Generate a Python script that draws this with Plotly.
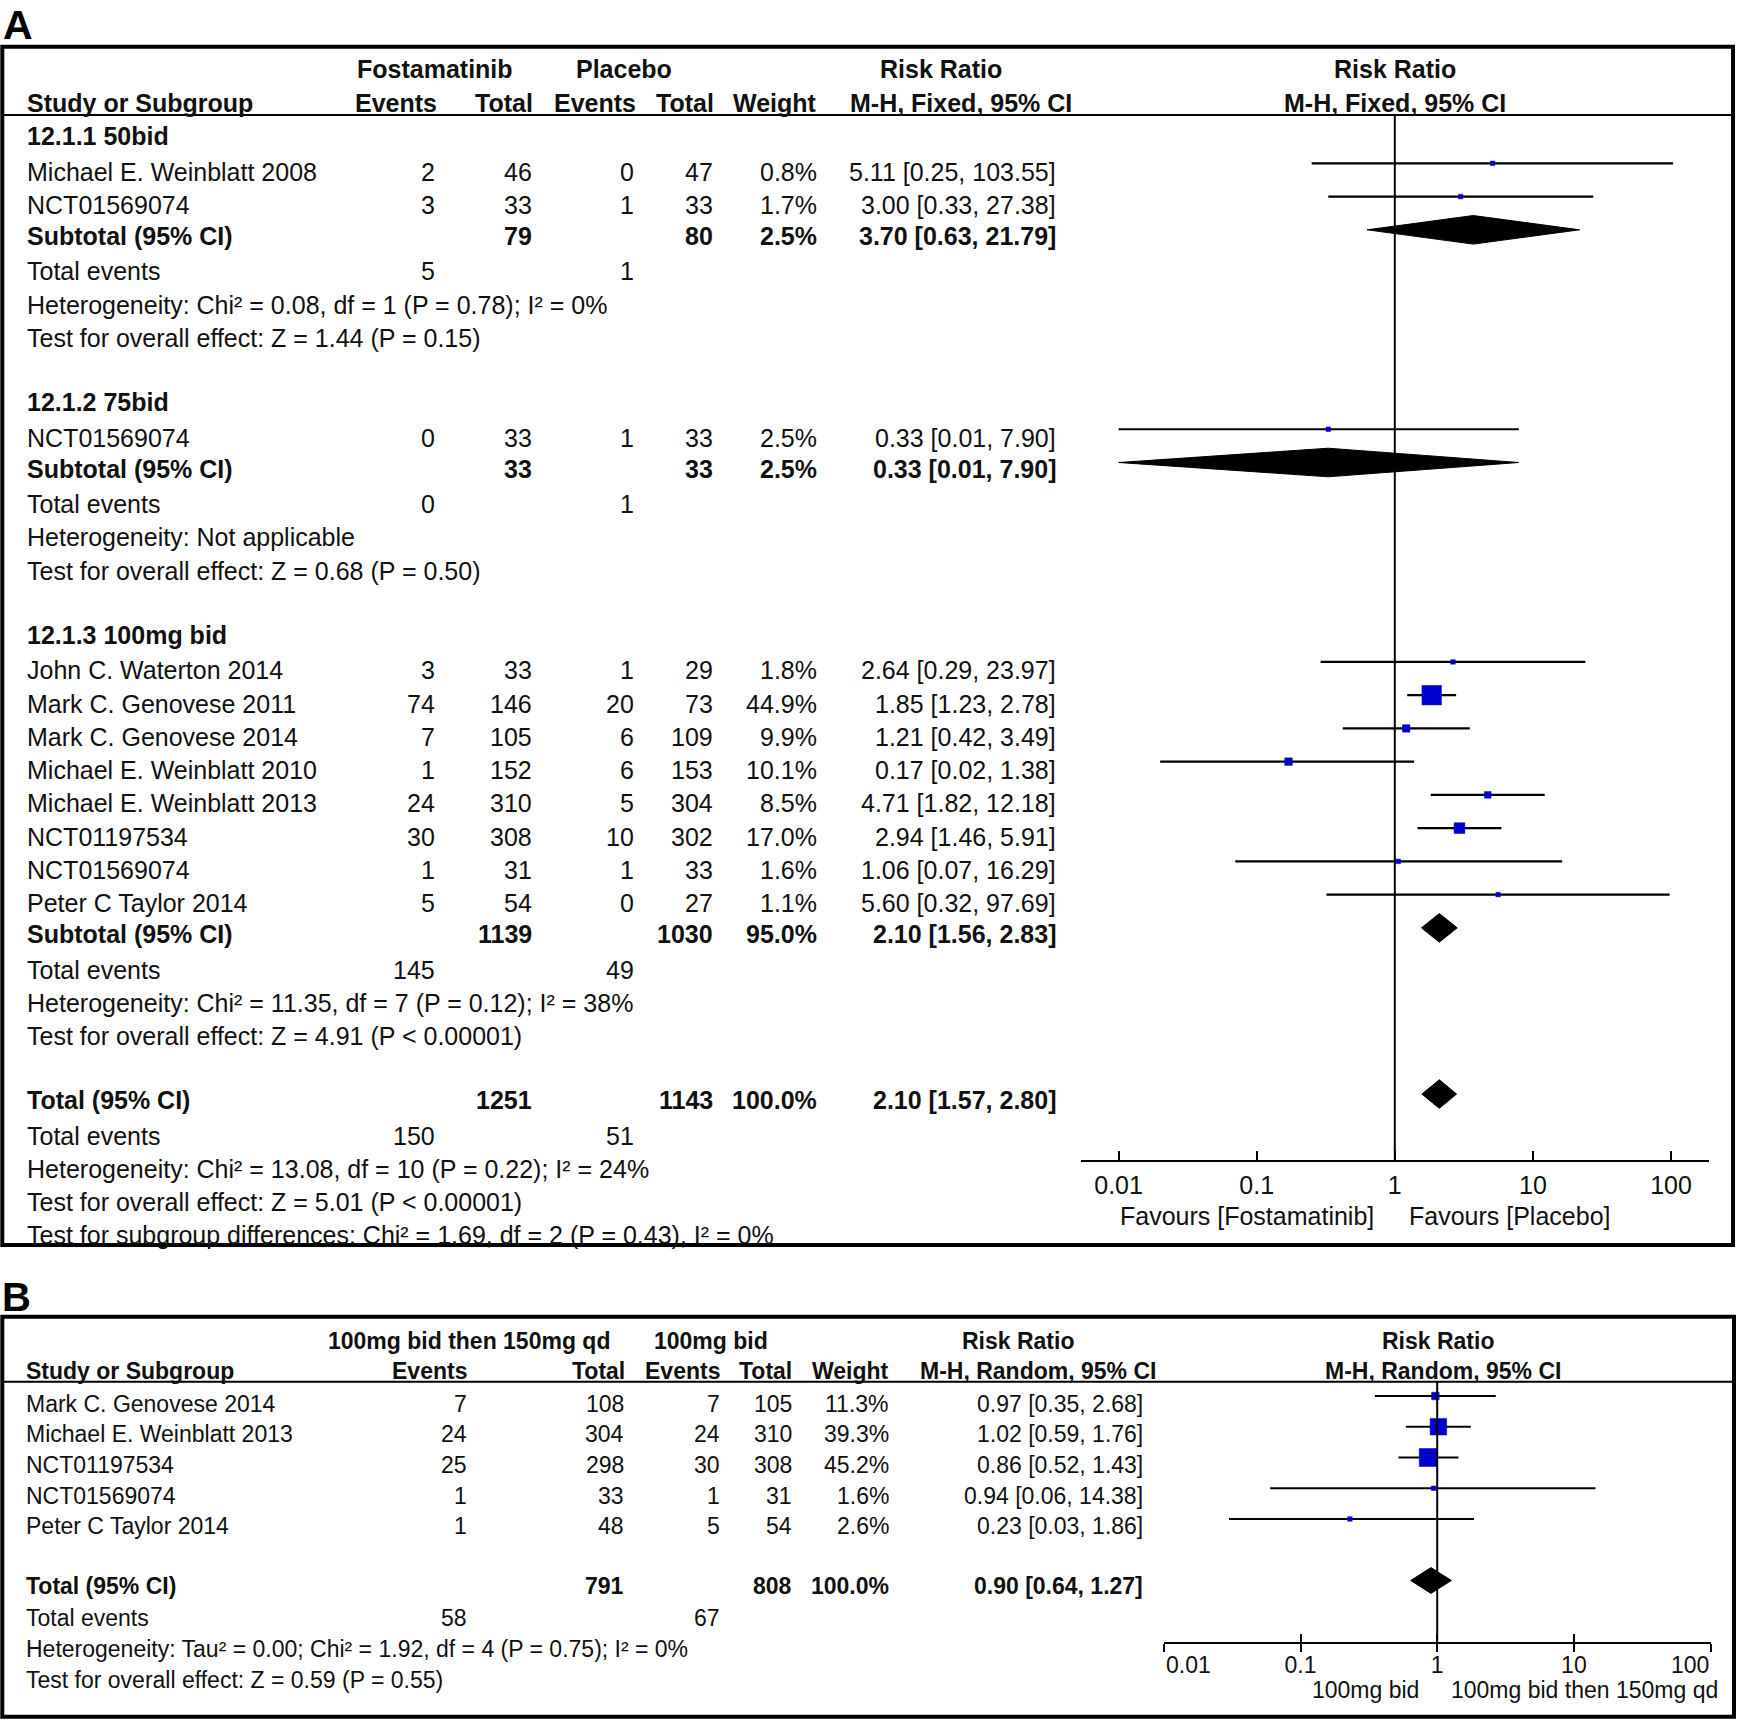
import math
import plotly.graph_objects as go

# ---------------- Panel A data (Fostamatinib vs Placebo) ----------------
A_group_labels = ["12.1.1 50bid", "12.1.2 75bid", "12.1.3 100mg bid"]
A_study = ["Michael E. Weinblatt 2008", "NCT01569074",
           "NCT01569074",
           "John C. Waterton 2014", "Mark C. Genovese 2011", "Mark C. Genovese 2014",
           "Michael E. Weinblatt 2010", "Michael E. Weinblatt 2013", "NCT01197534",
           "NCT01569074", "Peter C Taylor 2014"]
A_study_group = [0, 0, 1, 2, 2, 2, 2, 2, 2, 2, 2]
A_fos_ev = [2, 3, 0, 3, 74, 7, 1, 24, 30, 1, 5]
A_fos_tot = [46, 33, 33, 33, 146, 105, 152, 310, 308, 31, 54]
A_pla_ev = [0, 1, 1, 1, 20, 6, 6, 5, 10, 1, 0]
A_pla_tot = [47, 33, 33, 29, 73, 109, 153, 304, 302, 33, 27]
A_weight = [0.8, 1.7, 2.5, 1.8, 44.9, 9.9, 10.1, 8.5, 17.0, 1.6, 1.1]
A_rr = [5.11, 3.00, 0.33, 2.64, 1.85, 1.21, 0.17, 4.71, 2.94, 1.06, 5.60]
A_lo = [0.25, 0.33, 0.01, 0.29, 1.23, 0.42, 0.02, 1.82, 1.46, 0.07, 0.32]
A_hi = [103.55, 27.38, 7.90, 23.97, 2.78, 3.49, 1.38, 12.18, 5.91, 16.29, 97.69]

A_sub_fos_tot = [79, 33, 1139]
A_sub_pla_tot = [80, 33, 1030]
A_sub_weight = [2.5, 2.5, 95.0]
A_sub_rr = [3.70, 0.33, 2.10]
A_sub_lo = [0.63, 0.01, 1.56]
A_sub_hi = [21.79, 7.90, 2.83]
A_sub_fos_ev = [5, 0, 145]
A_sub_pla_ev = [1, 1, 49]
A_sub_het = ["Heterogeneity: Chi² = 0.08, df = 1 (P = 0.78); I² = 0%",
             "Heterogeneity: Not applicable",
             "Heterogeneity: Chi² = 11.35, df = 7 (P = 0.12); I² = 38%"]
A_sub_test = ["Test for overall effect: Z = 1.44 (P = 0.15)",
              "Test for overall effect: Z = 0.68 (P = 0.50)",
              "Test for overall effect: Z = 4.91 (P < 0.00001)"]

A_total_fos_tot = 1251
A_total_pla_tot = 1143
A_total_weight = 100.0
A_total_rr = 2.10
A_total_lo = 1.57
A_total_hi = 2.80
A_total_fos_ev = 150
A_total_pla_ev = 51
A_total_het = "Heterogeneity: Chi² = 13.08, df = 10 (P = 0.22); I² = 24%"
A_total_test = "Test for overall effect: Z = 5.01 (P < 0.00001)"
A_subgroup_test = "Test for subgroup differences: Chi² = 1.69, df = 2 (P = 0.43), I² = 0%"

A_ticks = [0.01, 0.1, 1, 10, 100]
A_ticktext = ["0.01", "0.1", "1", "10", "100"]
A_favours = ["Favours [Fostamatinib]", "Favours [Placebo]"]

# ---------------- Panel B data ----------------
B_study = ["Mark C. Genovese 2014", "Michael E. Weinblatt 2013", "NCT01197534",
           "NCT01569074", "Peter C Taylor 2014"]
B_exp_ev = [7, 24, 25, 1, 1]
B_exp_tot = [108, 304, 298, 33, 48]
B_ctl_ev = [7, 24, 30, 1, 5]
B_ctl_tot = [105, 310, 308, 31, 54]
B_weight = [11.3, 39.3, 45.2, 1.6, 2.6]
B_rr = [0.97, 1.02, 0.86, 0.94, 0.23]
B_lo = [0.35, 0.59, 0.52, 0.06, 0.03]
B_hi = [2.68, 1.76, 1.43, 14.38, 1.86]
B_total_exp_tot = 791
B_total_ctl_tot = 808
B_total_weight = 100.0
B_total_rr = 0.90
B_total_lo = 0.64
B_total_hi = 1.27
B_total_exp_ev = 58
B_total_ctl_ev = 67
B_total_het = "Heterogeneity: Tau² = 0.00; Chi² = 1.92, df = 4 (P = 0.75); I² = 0%"
B_total_test = "Test for overall effect: Z = 0.59 (P = 0.55)"
B_ticks = [0.01, 0.1, 1, 10, 100]
B_ticktext = ["0.01", "0.1", "1", "10", "100"]
B_favours = ["100mg bid", "100mg bid then 150mg qd"]

# ---------------- layout constants (pixels) ----------------
W, H = 1737, 1723
FONT = "Liberation Sans, Arial, Helvetica, sans-serif"
TXT = "#111111"
BLUE = "#0000CC"
FA, FB = 25, 23
TXT_SHIFT = -1.5


def px_x(p):
    return p / W


def px_y(p):
    return 1 - p / H


annotations = []


def txt(x, y, s, anchor="left", size=FA, bold=False):
    annotations.append(dict(
        x=px_x(x), y=px_y(y + TXT_SHIFT), xref="paper", yref="paper",
        text=f"<b>{s}</b>" if bold else s, showarrow=False,
        xanchor=anchor, yanchor="middle",
        font=dict(family=FONT, size=size, color=TXT)))


def rrtxt(r, lo, hi):
    return f"{r:.2f} [{lo:.2f}, {hi:.2f}]"


# ---------------- Panel A table ----------------
A_ROW0, A_DY = 140.0, 33.24
A_MARK0 = 130.1
AC = dict(name=25, fev=436.6, ftot=534, pev=636, ptot=714.7, wt=818.8, rr=1058)


def ay(i, bold=False):
    return A_ROW0 + A_DY * i - (2 if bold else 0)


# headers
txt(435.4, 70, "Fostamatinib", "center", bold=True)
txt(623.8, 70, "Placebo", "center", bold=True)
txt(940.7, 70, "Risk Ratio", "center", bold=True)
txt(1395, 70, "Risk Ratio", "center", bold=True)
txt(AC["name"], 104, "Study or Subgroup", "left", bold=True)
txt(438.8, 104, "Events", "right", bold=True)
txt(535, 104, "Total", "right", bold=True)
txt(638, 104, "Events", "right", bold=True)
txt(715.8, 104, "Total", "right", bold=True)
txt(818.8, 104, "Weight", "right", bold=True)
txt(960.6, 104, "M-H, Fixed, 95% CI", "center", bold=True)
txt(1395, 104, "M-H, Fixed, 95% CI", "center", bold=True)

a_study_row = [None] * len(A_study)
a_diamond_rows = []
a_diamond_vals = []
row = 0
for g, lab in enumerate(A_group_labels):
    txt(AC["name"], ay(row, True), lab, bold=True)
    row += 1
    for k in range(len(A_study)):
        if A_study_group[k] != g:
            continue
        a_study_row[k] = row
        y = ay(row)
        txt(AC["name"], y, A_study[k])
        txt(AC["fev"], y, str(A_fos_ev[k]), "right")
        txt(AC["ftot"], y, str(A_fos_tot[k]), "right")
        txt(AC["pev"], y, str(A_pla_ev[k]), "right")
        txt(AC["ptot"], y, str(A_pla_tot[k]), "right")
        txt(AC["wt"], y, f"{A_weight[k]:.1f}%", "right")
        txt(AC["rr"], y, rrtxt(A_rr[k], A_lo[k], A_hi[k]), "right")
        row += 1
    y = ay(row, True)
    txt(AC["name"], y, "Subtotal (95% CI)", bold=True)
    txt(AC["ftot"], y, str(A_sub_fos_tot[g]), "right", bold=True)
    txt(AC["ptot"], y, str(A_sub_pla_tot[g]), "right", bold=True)
    txt(AC["wt"], y, f"{A_sub_weight[g]:.1f}%", "right", bold=True)
    txt(AC["rr"], y, rrtxt(A_sub_rr[g], A_sub_lo[g], A_sub_hi[g]), "right", bold=True)
    a_diamond_rows.append(row)
    a_diamond_vals.append((A_sub_rr[g], A_sub_lo[g], A_sub_hi[g]))
    row += 1
    y = ay(row)
    txt(AC["name"], y, "Total events")
    txt(AC["fev"], y, str(A_sub_fos_ev[g]), "right")
    txt(AC["pev"], y, str(A_sub_pla_ev[g]), "right")
    row += 1
    txt(AC["name"], ay(row), A_sub_het[g])
    row += 1
    txt(AC["name"], ay(row), A_sub_test[g])
    row += 2

y = ay(row, True)
txt(AC["name"], y, "Total (95% CI)", bold=True)
txt(AC["ftot"], y, str(A_total_fos_tot), "right", bold=True)
txt(AC["ptot"], y, str(A_total_pla_tot), "right", bold=True)
txt(AC["wt"], y, f"{A_total_weight:.1f}%", "right", bold=True)
txt(AC["rr"], y, rrtxt(A_total_rr, A_total_lo, A_total_hi), "right", bold=True)
a_diamond_rows.append(row)
a_diamond_vals.append((A_total_rr, A_total_lo, A_total_hi))
row += 1
y = ay(row)
txt(AC["name"], y, "Total events")
txt(AC["fev"], y, str(A_total_fos_ev), "right")
txt(AC["pev"], y, str(A_total_pla_ev), "right")
row += 1
txt(AC["name"], ay(row), A_total_het)
row += 1
txt(AC["name"], ay(row), A_total_test)
row += 1
txt(AC["name"], ay(row), A_subgroup_test)

# favours A
txt(1376, 1217, A_favours[0], "right")
txt(1406.6, 1217, A_favours[1], "left")

# ---------------- Panel B table ----------------
B_ROW0, B_DY = 1405.0, 30.7
BC = dict(name=24.4, eev=469, etot=626, cev=722, ctot=794, wt=891, rr=1144.6)


def by(i, bold=False):
    return B_ROW0 + B_DY * i - (2 if bold else 0)


txt(469, 1342, "100mg bid then 150mg qd", "center", FB, True)
txt(711, 1342, "100mg bid", "center", FB, True)
txt(1018, 1342, "Risk Ratio", "center", FB, True)
txt(1438, 1342, "Risk Ratio", "center", FB, True)
txt(BC["name"], 1372, "Study or Subgroup", "left", FB, True)
txt(469, 1372, "Events", "right", FB, True)
txt(626.5, 1372, "Total", "right", FB, True)
txt(722.4, 1372, "Events", "right", FB, True)
txt(794, 1372, "Total", "right", FB, True)
txt(891, 1372, "Weight", "right", FB, True)
txt(1038.2, 1372, "M-H, Random, 95% CI", "center", FB, True)
txt(1442.6, 1372, "M-H, Random, 95% CI", "center", FB, True)

b_study_row = []
for k in range(len(B_study)):
    b_study_row.append(k)
    y = by(k)
    txt(BC["name"], y, B_study[k], size=FB)
    txt(BC["eev"], y, str(B_exp_ev[k]), "right", FB)
    txt(BC["etot"], y, str(B_exp_tot[k]), "right", FB)
    txt(BC["cev"], y, str(B_ctl_ev[k]), "right", FB)
    txt(BC["ctot"], y, str(B_ctl_tot[k]), "right", FB)
    txt(BC["wt"], y, f"{B_weight[k]:.1f}%", "right", FB)
    txt(BC["rr"], y, rrtxt(B_rr[k], B_lo[k], B_hi[k]), "right", FB)
b_total_row = len(B_study) + 1
y = by(b_total_row, True)
txt(BC["name"], y, "Total (95% CI)", size=FB, bold=True)
txt(BC["etot"], y, str(B_total_exp_tot), "right", FB, True)
txt(BC["ctot"], y, str(B_total_ctl_tot), "right", FB, True)
txt(BC["wt"], y, f"{B_total_weight:.1f}%", "right", FB, True)
txt(BC["rr"], y, rrtxt(B_total_rr, B_total_lo, B_total_hi), "right", FB, True)
y = by(b_total_row + 1)
txt(BC["name"], y, "Total events", size=FB)
txt(BC["eev"], y, str(B_total_exp_ev), "right", FB)
txt(BC["cev"], y, str(B_total_ctl_ev), "right", FB)
txt(BC["name"], by(b_total_row + 2), B_total_het, size=FB)
txt(BC["name"], by(b_total_row + 3), B_total_test, size=FB)

txt(1421, 1691, B_favours[0], "right", FB)
txt(1449, 1691, B_favours[1], "left", FB)

# panel B end tick labels sit inside the axis ends (left-aligned / right-aligned)
B_TICK_LABEL_Y = 1665
annotations.append(dict(x=math.log10(B_ticks[0]), y=px_y(B_TICK_LABEL_Y), xref="x2", yref="paper",
                        text=B_ticktext[0], showarrow=False, xanchor="left", yanchor="middle",
                        font=dict(family=FONT, size=FB, color=TXT)))
annotations.append(dict(x=math.log10(B_ticks[-1]), y=px_y(B_TICK_LABEL_Y), xref="x2", yref="paper",
                        text=B_ticktext[-1], showarrow=False, xanchor="right", yanchor="middle",
                        font=dict(family=FONT, size=FB, color=TXT)))

# panel letters
annotations.append(dict(x=px_x(1), y=1.0, xref="paper", yref="paper", text="<b>A</b>",
                        showarrow=False, xanchor="left", yanchor="top",
                        font=dict(family=FONT, size=41, color="black")))
annotations.append(dict(x=px_x(0), y=px_y(1273), xref="paper", yref="paper", text="<b>B</b>",
                        showarrow=False, xanchor="left", yanchor="top",
                        font=dict(family=FONT, size=40, color="black")))

# ---------------- traces ----------------
fig = go.Figure()


def ci_trace(lo, hi, rows, xa, ya):
    xs, ys = [], []
    for l, h, r in zip(lo, hi, rows):
        xs += [l, h, None]
        ys += [r, r, None]
    return go.Scatter(x=xs, y=ys, mode="lines", line=dict(color="black", width=2.2),
                      xaxis=xa, yaxis=ya, hoverinfo="skip", showlegend=False)


def diamond_trace(vals, rows, half, xa, ya):
    xs, ys = [], []
    for (r, l, h), rw in zip(vals, rows):
        xs += [l, r, h, r, l, None]
        ys += [rw, rw - half, rw, rw + half, rw, None]
    return go.Scatter(x=xs, y=ys, mode="lines", fill="toself", fillcolor="black",
                      line=dict(color="black", width=1), xaxis=xa, yaxis=ya,
                      hoverinfo="skip", showlegend=False)


def box_size(w, scale=1.0):
    return max(4.5, (3.39 * math.sqrt(w) - 3.2) * scale)


fig.add_trace(ci_trace(A_lo, A_hi, a_study_row, "x", "y"))
fig.add_trace(go.Scatter(x=A_rr, y=a_study_row, mode="markers",
                         marker=dict(symbol="square", color=BLUE, opacity=1,
                                     size=[box_size(w) for w in A_weight],
                                     line=dict(width=0.5, color=BLUE)),
                         xaxis="x", yaxis="y", hoverinfo="skip", showlegend=False))
fig.add_trace(diamond_trace(a_diamond_vals, a_diamond_rows, 0.43, "x", "y"))

fig.add_trace(ci_trace(B_lo, B_hi, b_study_row, "x2", "y2"))
fig.add_trace(go.Scatter(x=B_rr, y=b_study_row, mode="markers",
                         marker=dict(symbol="square", color=BLUE, opacity=1,
                                     size=[box_size(w, 0.92) for w in B_weight],
                                     line=dict(width=0.5, color=BLUE)),
                         xaxis="x2", yaxis="y2", hoverinfo="skip", showlegend=False))
fig.add_trace(diamond_trace([(B_total_rr, B_total_lo, B_total_hi)], [b_total_row], 0.42, "x2", "y2"))
# carrier for the overlay axis that draws the inner half of panel B ticks
fig.add_trace(go.Scatter(x=[1], y=[0], mode="markers", marker=dict(opacity=0),
                         xaxis="x3", yaxis="y2", hoverinfo="skip", showlegend=False))

# ---------------- axes ----------------
A_x0, A_x1 = 1081.0, 1709.0
A_dec = 138.1
A_one = 1394.8
A_top, A_bot = 114.0, 1160.0
B_x0, B_x1 = 1163.8, 1710.6
B_top, B_bot = 1381.7, 1642.0
B_MARK0, B_MDY = 1396.0, 30.75

xa = dict(type="log", domain=[A_x0 / W, A_x1 / W],
          range=[(A_x0 - A_one) / A_dec, (A_x1 - A_one) / A_dec],
          anchor="y", showline=True, linecolor="black", linewidth=2,
          ticks="inside", ticklen=9, tickwidth=2, tickcolor="black",
          tickvals=A_ticks, ticktext=A_ticktext, showgrid=False, zeroline=False,
          tickfont=dict(family=FONT, size=FA, color=TXT), ticklabelstandoff=2,
          ticklabeloverflow="allow", automargin=False)
ya = dict(domain=[px_y(A_bot), px_y(A_top)], anchor="x",
          range=[(A_bot - A_MARK0) / A_DY, (A_top - A_MARK0) / A_DY],
          visible=False, showgrid=False, zeroline=False, automargin=False)
xb = dict(type="log", domain=[B_x0 / W, B_x1 / W], range=[-2, 2], anchor="y2",
          showline=True, linecolor="black", linewidth=2,
          ticks="outside", ticklen=8, tickwidth=2, tickcolor="black",
          tickvals=B_ticks, ticktext=[""] + B_ticktext[1:-1] + [""],
          showgrid=False, zeroline=False,
          tickfont=dict(family=FONT, size=FB, color=TXT), ticklabelstandoff=-7,
          ticklabeloverflow="allow", automargin=False)
xb_in = dict(type="log", domain=[B_x0 / W, B_x1 / W], range=[-2, 2], anchor="y2",
             overlaying="x2", showline=False, ticks="inside", ticklen=8, tickwidth=2,
             tickcolor="black", tickvals=B_ticks, showticklabels=False,
             showgrid=False, zeroline=False, automargin=False)
yb = dict(domain=[px_y(B_bot), px_y(B_top)], anchor="x2",
          range=[(B_bot - B_MARK0) / B_MDY, (B_top - B_MARK0) / B_MDY],
          visible=False, showgrid=False, zeroline=False, automargin=False)

# ---------------- shapes ----------------
shapes = [
    dict(type="rect", xref="paper", yref="paper", x0=px_x(2.3), x1=px_x(1733),
         y0=px_y(46.7), y1=px_y(1245), line=dict(color="black", width=4), layer="above"),
    dict(type="line", xref="paper", yref="paper", x0=px_x(2.3), x1=px_x(1733),
         y0=px_y(115), y1=px_y(115), line=dict(color="black", width=2)),
    dict(type="rect", xref="paper", yref="paper", x0=px_x(2.3), x1=px_x(1734),
         y0=px_y(1316.7), y1=px_y(1716.7), line=dict(color="black", width=4), layer="above"),
    dict(type="line", xref="paper", yref="paper", x0=px_x(2.3), x1=px_x(1734),
         y0=px_y(B_top), y1=px_y(B_top), line=dict(color="black", width=2)),
    dict(type="line", xref="x", yref="y domain", x0=1, x1=1, y0=0, y1=1,
         line=dict(color="black", width=2)),
    dict(type="line", xref="x2", yref="y2 domain", x0=1, x1=1, y0=0, y1=1,
         line=dict(color="black", width=2)),
]

fig.update_layout(
    width=W, height=H, margin=dict(l=0, r=0, t=0, b=0, pad=0, autoexpand=False),
    paper_bgcolor="white", plot_bgcolor="white", showlegend=False,
    xaxis=xa, yaxis=ya, xaxis2=xb, yaxis2=yb, xaxis3=xb_in,
    shapes=shapes, annotations=annotations,
    font=dict(family=FONT, color=TXT),
)

fig.write_html("out.html", config={"displayModeBar": False},
               post_script="document.body.style.margin='0';")
